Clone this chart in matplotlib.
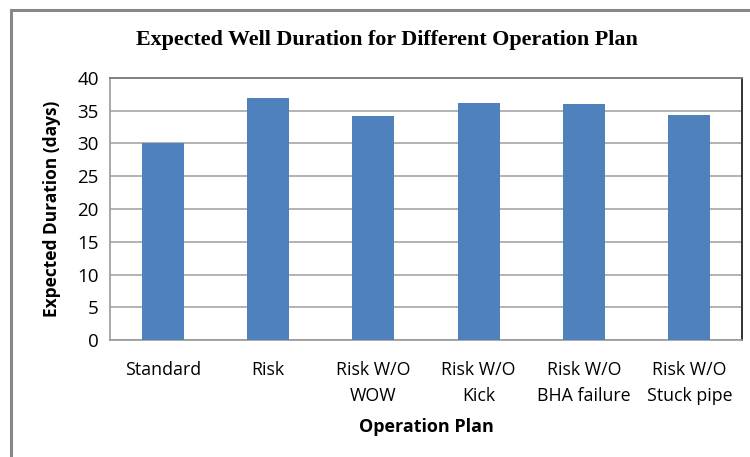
import matplotlib.pyplot as plt
from matplotlib.patches import Rectangle

plans = ["Standard", "Risk", "Risk W/O\nWOW", "Risk W/O\nKick",
         "Risk W/O\nBHA failure", "Risk W/O\nStuck pipe"]
durations = [30.0, 36.9, 34.2, 36.2, 36.1, 34.4]
yticks = [0, 5, 10, 15, 20, 25, 30, 35, 40]

fig = plt.figure(figsize=(7.5, 4.57), dpi=100)

# chart frame
fig.patches.append(Rectangle((11 / 750, -0.1), 1.2, 1 - 10 / 457 + 0.1,
                             transform=fig.transFigure, fill=False,
                             edgecolor="#878787", linewidth=2.2, zorder=0))

ax = fig.add_axes([110 / 750, 117 / 457, 632 / 750, 262 / 457])
x = range(len(plans))
ax.bar(x, durations, width=0.4, color="#4f81bd", zorder=3)

ax.set_xlim(-0.5, len(plans) - 0.5)
ax.set_ylim(0, 40)
ax.set_yticks(yticks)
ax.set_xticks(list(x))
ax.set_xticklabels(plans, fontsize=12.8, family="Open Sans", linespacing=1.55)
ax.set_yticklabels([str(t) for t in yticks], fontsize=13.5, family="Open Sans")
ax.tick_params(length=0, pad=8)
ax.tick_params(axis="x", pad=15)
ax.grid(axis="y", color="#a6a6a6", linewidth=1.2, zorder=0)

for s in ["left", "bottom"]:
    ax.spines[s].set_color("#999999")
    ax.spines[s].set_linewidth(1.2)
ax.spines["top"].set_color("#808080")
ax.spines["top"].set_linewidth(1.4)
ax.spines["right"].set_color("#333333")
ax.spines["right"].set_linewidth(1.4)

ax.set_xlabel("Operation Plan", fontsize=13, fontweight="bold",
              family="Open Sans", labelpad=10)
ax.set_ylabel("Expected Duration (days)", fontsize=12.5, fontweight="bold",
              family="Open Sans", labelpad=12)

fig.text(387 / 750, 1 - 40 / 457, "Expected Well Duration for Different Operation Plan",
         ha="center", va="center", fontsize=15.8, fontweight="bold",
         family="Liberation Serif")

fig.savefig("out.png", dpi=100)
